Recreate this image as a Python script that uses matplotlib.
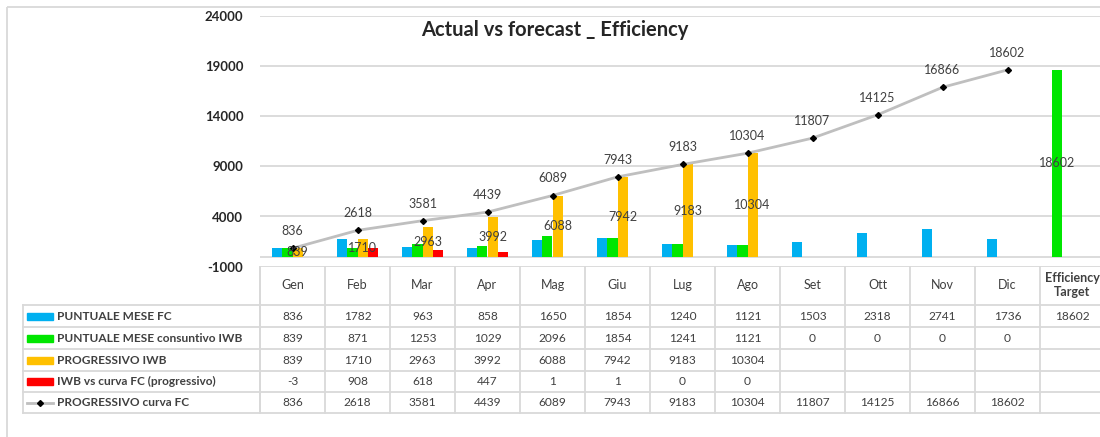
import matplotlib
matplotlib.use("Agg")
import matplotlib.pyplot as plt
from matplotlib.transforms import blended_transform_factory
from matplotlib.patches import Rectangle
import numpy as np

plt.rcParams['font.family'] = ['Lato', 'DejaVu Sans']
plt.rcParams['axes.unicode_minus'] = False

# data
months = ['Gen', 'Feb', 'Mar', 'Apr', 'Mag', 'Giu', 'Lug', 'Ago', 'Set', 'Ott', 'Nov', 'Dic',
          'Efficiency\nTarget']
fc_month = [836, 1782, 963, 858, 1650, 1854, 1240, 1121, 1503, 2318, 2741, 1736, 18602]
iwb_month = [839, 871, 1253, 1029, 2096, 1854, 1241, 1121, 0, 0, 0, 0]
iwb_prog = [839, 1710, 2963, 3992, 6088, 7942, 9183, 10304]
gap_prog = [-3, 908, 618, 447, 1, 1, 0, 0]
fc_curve = [836, 2618, 3581, 4439, 6089, 7943, 9183, 10304, 11807, 14125, 16866, 18602]

series_names = ['PUNTUALE MESE FC', 'PUNTUALE MESE consuntivo IWB', 'PROGRESSIVO IWB',
                'IWB vs curva FC (progressivo)', 'PROGRESSIVO curva FC']

BLUE = '#00B0F0'
GREEN = '#00E600'
YELLOW = '#FFC000'
RED = '#FF0000'
LINE = '#BFBFBF'
GRID = '#D9D9D9'
TXT = '#404040'

W, H = 1100, 437
fig = plt.figure(figsize=(W / 100, H / 100), dpi=100)

# overlay in pixel units for borders, table grid and legend keys
tab = fig.add_axes([0, 0, 1, 1])
tab.set_xlim(0, W)
tab.set_ylim(H, 0)
tab.axis('off')

left, right, top, bottom = 260, 1105, 15.7, 266.7
ax = fig.add_axes([left / W, (H - bottom) / H, (right - left) / W, (bottom - top) / H])
ax.set_xlim(-0.5, len(months) - 0.5)
ax.set_ylim(-1000, 24000)
ax.set_yticks(np.arange(-1000, 24001, 5000))
ax.set_xticks([])
for s in ax.spines.values():
    s.set_visible(False)
ax.grid(axis='y', color=GRID, lw=1.3)
ax.set_axisbelow(True)
ax.axhline(0, color=GRID, lw=1.3, zorder=1)
ax.tick_params(axis='y', length=0, pad=12, labelsize=9.5, labelcolor='#262626')
for lab in ax.get_yticklabels():
    lab.set_fontweight('bold')
ax.patch.set_alpha(0)

x = np.arange(len(months))
bw = 0.155
blue_colors = [BLUE] * 12 + [GREEN]
ax.bar(x - 1.5 * bw, fc_month, bw, color=blue_colors, zorder=2)
ax.bar(x[:len(iwb_month)] - 0.5 * bw, iwb_month, bw, color=GREEN, zorder=2)
ax.bar(x[:len(iwb_prog)] + 0.5 * bw, iwb_prog, bw, color=YELLOW, zorder=2)
ax.bar(x[:len(gap_prog)] + 1.5 * bw, gap_prog, bw, color=RED, zorder=2)
ax.plot(x[:len(fc_curve)], fc_curve, color=LINE, lw=2, marker='D', ms=3,
        mfc='black', mec='black', zorder=3)

# value labels
for i, v in enumerate(iwb_prog):
    ax.text(x[i] + 0.5 * bw, v / 2, str(v), ha='center', va='center', fontsize=9,
            color=TXT, zorder=4)
for i, v in enumerate(fc_curve):
    ax.annotate(str(v), (x[i], v), xytext=(0, 8), textcoords='offset points',
                ha='center', va='bottom', fontsize=9, color=TXT, zorder=4)
ax.text(x[12] - 1.5 * bw, fc_month[12] / 2, str(fc_month[12]), ha='center', va='center',
        fontsize=9, color=TXT, zorder=4)

fig.text(555 / W, 1 - 30 / H, 'Actual vs forecast _ Efficiency', ha='center', va='center',
         fontsize=14.5, fontweight='bold', color='#262626')

# outer chart border
tab.add_patch(Rectangle((7, 7), W, H, fill=False, ec=GRID, lw=1.3))

# category header and data table
bt = blended_transform_factory(ax.transData, tab.transData)
row_lines = [305, 327, 349, 371, 392, 413]
for xb in np.arange(-0.5, len(months), 1.0):
    tab.plot([xb, xb], [bottom, row_lines[-1]], color=GRID, lw=1.3, transform=bt)
for yl in row_lines:
    tab.plot([23, W], [yl, yl], color=GRID, lw=1.3)
tab.plot([23, 23], [row_lines[0], row_lines[-1]], color=GRID, lw=1.3)
tab.plot([left, left], [bottom, row_lines[-1]], color=GRID, lw=1.3)

for i, m in enumerate(months):
    tab.text(x[i], 285, m, ha='center', va='center', fontsize=9, color=TXT, transform=bt,
             fontweight='bold' if i == 12 else 'normal', linespacing=1.1)

rows = [fc_month, iwb_month, iwb_prog, gap_prog, fc_curve]
keys = [BLUE, GREEN, YELLOW, RED, None]
for r, (vals, name, col) in enumerate(zip(rows, series_names, keys)):
    yc = (row_lines[r] + row_lines[r + 1]) / 2
    if col is None:
        tab.plot([27, 53], [yc, yc], color=LINE, lw=2)
        tab.plot([40], [yc], marker='D', ms=3, color='black')
    else:
        tab.add_patch(Rectangle((27, yc - 3.5), 26, 7, color=col))
    tab.text(57, yc, name, ha='left', va='center', fontsize=8.6, fontweight='bold',
             color=TXT)
    for i, v in enumerate(vals):
        tab.text(x[i], yc, str(v), ha='center', va='center', fontsize=8.6, color=TXT,
                 transform=bt)

fig.savefig('out.png', dpi=100)
